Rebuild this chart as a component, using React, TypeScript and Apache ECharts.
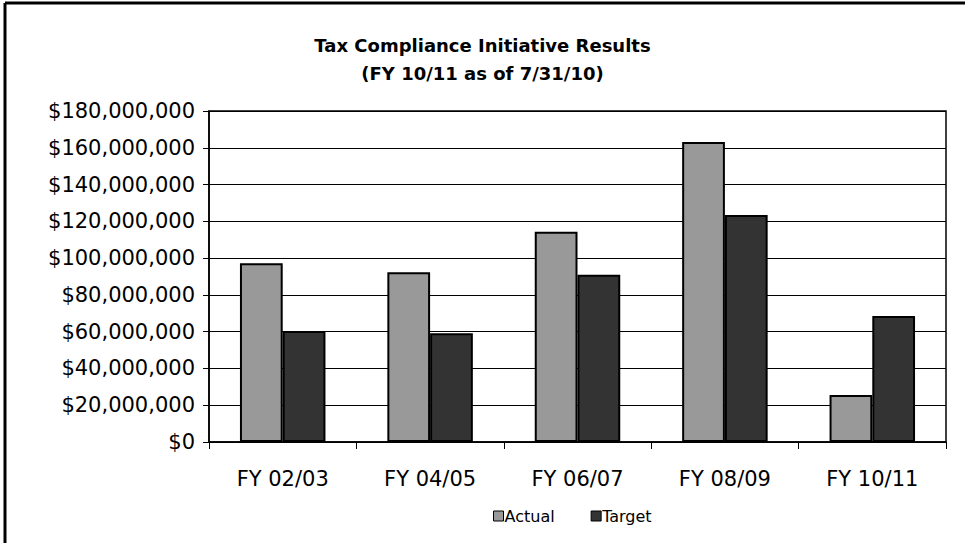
import React, { useEffect, useRef } from "react";
import * as echarts from "echarts";

// Fiscal years shown along the category axis
const categories = ["FY 02/03", "FY 04/05", "FY 06/07", "FY 08/09", "FY 10/11"];
// Collected revenue (dollars)
const actualValues = [97200000, 92300000, 114400000, 163100000, 25600000];
// Revenue targets (dollars)
const targetValues = [60300000, 59200000, 90900000, 123400000, 68500000];
// Value axis range
const yMin = 0;
const yMax = 180000000;
const yStep = 20000000;

const FONT = "DejaVu Sans";

const formatDollars = (v: number) => "$" + v.toLocaleString("en-US");

export default function App() {
  const ref = useRef<HTMLDivElement>(null);

  useEffect(() => {
    document.body.style.margin = "0";
    if (!ref.current) return;
    const chart = echarts.init(ref.current, undefined, { renderer: "svg" });
    chart.setOption({
      animation: false,
      backgroundColor: "#ffffff",
      title: {
        text: "Tax Compliance Initiative Results\n(FY 10/11 as of 7/31/10)",
        left: "center",
        top: 26,
        textStyle: {
          fontFamily: FONT,
          fontWeight: "bold",
          fontSize: 18,
          lineHeight: 28,
          color: "#000",
        },
      },
      legend: {
        bottom: 14,
        left: 488,
        icon: "rect",
        itemWidth: 10,
        itemHeight: 10,
        itemGap: 36,
        itemStyle: { borderColor: "#000", borderWidth: 1 },
        textStyle: { fontFamily: FONT, fontSize: 16, color: "#000", padding: [0, 0, 0, -4] },
        data: ["Actual", "Target"],
      },
      grid: {
        left: 209,
        right: 19,
        top: 111,
        bottom: 101,
        show: true,
        borderColor: "#000",
        borderWidth: 1.5,
        containLabel: false,
      },
      xAxis: {
        type: "category",
        data: categories,
        axisLine: { show: true, lineStyle: { color: "#000", width: 1.5 } },
        axisTick: { show: true, length: 7, lineStyle: { color: "#000" } },
        axisLabel: {
          fontFamily: FONT,
          fontSize: 21,
          color: "#000",
          margin: 26,
        },
      },
      yAxis: {
        type: "value",
        min: yMin,
        max: yMax,
        interval: yStep,
        axisLine: { show: true, lineStyle: { color: "#000", width: 1.5 } },
        axisTick: { show: true, length: 6, lineStyle: { color: "#000" } },
        splitLine: { show: true, lineStyle: { color: "#000", width: 1.2 } },
        axisLabel: {
          fontFamily: FONT,
          fontSize: 21,
          color: "#000",
          margin: 14,
          formatter: formatDollars,
        },
      },
      series: [
        {
          name: "Actual",
          type: "bar",
          data: actualValues,
          barGap: "0%",
          barCategoryGap: "42%",
          itemStyle: { color: "#999999", borderColor: "#000", borderWidth: 2 },
        },
        {
          name: "Target",
          type: "bar",
          data: targetValues,
          barGap: "0%",
          barCategoryGap: "42%",
          itemStyle: { color: "#333333", borderColor: "#000", borderWidth: 2 },
        },
      ],
      graphic: [
        {
          type: "line",
          shape: { x1: 5, y1: 3, x2: 5, y2: 543 },
          style: { stroke: "#000", lineWidth: 3 },
        },
        {
          type: "line",
          shape: { x1: 5, y1: 3, x2: 965, y2: 3 },
          style: { stroke: "#000", lineWidth: 3 },
        },
      ],
    });
    return () => chart.dispose();
  }, []);

  return <div ref={ref} style={{ width: 965, height: 543 }} />;
}
